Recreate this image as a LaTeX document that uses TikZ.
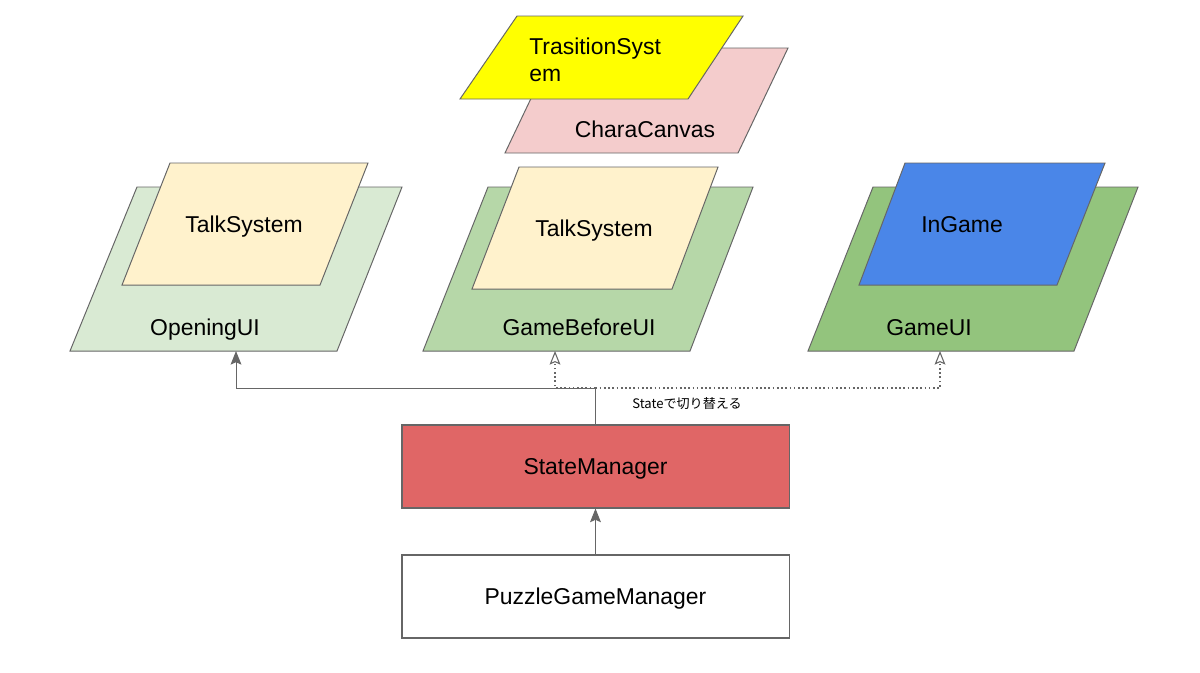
\documentclass[tikz,border=0pt]{standalone}
\usepackage{fontspec}
\setmainfont{Liberation Sans}
\newfontfamily\jpfont{Noto Sans CJK JP}
\usetikzlibrary{arrows.meta}
\definecolor{edge}{RGB}{102,102,102}
\definecolor{openingbg}{RGB}{217,234,211}
\definecolor{beforebg}{RGB}{182,215,168}
\definecolor{gamebg}{RGB}{147,196,125}
\definecolor{talkbg}{RGB}{255,242,204}
\definecolor{ingamebg}{RGB}{74,134,232}
\definecolor{transbg}{RGB}{255,255,0}
\definecolor{charabg}{RGB}{244,204,204}
\definecolor{statebg}{RGB}{224,102,102}
\tikzset{
  >={Stealth[length=3.4mm,width=2.7mm,inset=0.6mm]},
  sheet/.style={draw=edge,fill=#1,line width=0.7pt,line join=miter},
  txt/.style={font=\fontsize{16.3}{19.2}\selectfont,inner sep=0pt,text depth=0pt},
  box/.style={draw=edge,fill=#1,line width=0.8pt,minimum width=9.675cm,
    minimum height=2.075cm,text depth=0pt,font=\fontsize{16.3}{19.2}\selectfont},
  box/.default=white,
  flow/.style={->,draw=edge,line width=0.7pt},
  switchflow/.style={-{Stealth[open,length=3.4mm,width=2.7mm,inset=0.6mm]},draw=edge,
    line width=0.75pt,dash pattern=on 1.2pt off 1.8pt},
  note/.style={font=\jpfont\fontsize{9.3}{11}\selectfont,inner sep=0pt},
}
\begin{document}
\begin{tikzpicture}[x=0.025cm,y=-0.025cm]
  \fill[white] (0,0) rectangle (1200,672);
  \useasboundingbox (0,0) rectangle (1200,672);

  % layers
  \draw[sheet=openingbg] (137,187) -- (402,187) -- (337,351) -- (70,351) -- cycle;
  \draw[sheet=talkbg] (170,163) -- (368,163) -- (320,285) -- (122,285) -- cycle;
  \draw[sheet=beforebg] (488,187) -- (753,187) -- (690,351) -- (423,351) -- cycle;
  \draw[sheet=talkbg] (519,167) -- (718,167) -- (672,289) -- (472,289) -- cycle;
  \draw[sheet=gamebg] (873,187) -- (1138,187) -- (1074,351) -- (808,351) -- cycle;
  \draw[sheet=ingamebg] (905,163) -- (1105,163) -- (1057,285) -- (859,285) -- cycle;
  \draw[sheet=charabg] (555,48) -- (788,48) -- (738,153) -- (505,153) -- cycle;
  \draw[sheet=transbg] (517,16) -- (743,16) -- (688,99) -- (460,99) -- cycle;

  \node[txt] (opening) at (205,327) {OpeningUI};
  \node[txt] (talkA) at (244,224) {TalkSystem};
  \node[txt] (before) at (579,327) {GameBeforeUI};
  \node[txt] (talkB) at (594,228) {TalkSystem};
  \node[txt] (game) at (929,327) {GameUI};
  \node[txt] (ingame) at (962,224) {InGame};
  \node[txt] (chara) at (645,129) {CharaCanvas};
  \node[txt,align=left,anchor=west] (trans) at (529,60) {TrasitionSyst\\em};

  % managers
  \node[box=statebg] (state) at (595.5,466.5) {StateManager};
  \node[box] (puzzle) at (595.5,596.5) {PuzzleGameManager};

  \coordinate (split) at (595.5,388);
  \coordinate (openingin) at (236,351);
  \coordinate (beforein) at (555,351);
  \coordinate (gamein) at (940,351);

  \draw[flow] (puzzle.north) -- (state.south);
  \draw[flow] (state.north) -- (split) -| (openingin);
  \draw[switchflow] (split) -| (beforein);
  \draw[switchflow] (split) -| (gamein);
  \node[note] (switchnote) at (687,404) {Stateで切り替える};
\end{tikzpicture}
\end{document}
